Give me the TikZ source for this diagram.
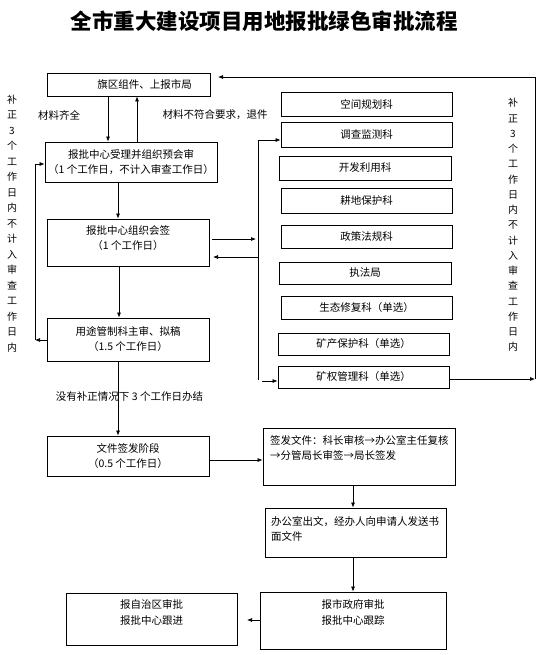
\documentclass[tikz,border=0pt]{standalone}
\usepackage{fontspec}
\setmainfont{Noto Sans CJK SC}
\usetikzlibrary{arrows.meta}
\tikzset{
  box/.style={draw=black, line width=0.8pt, inner sep=0pt, align=center,
              font=\fontsize{10.5}{15}\selectfont},
  sbox/.style={box, minimum width=171pt},
  arr/.style={-{Latex[length=5pt,width=4pt]}, line width=0.7pt},
  ln/.style={line width=0.7pt},
  lbl/.style={font=\fontsize{10.5}{15}\selectfont, inner sep=0pt},
  vtxt/.style={font=\fontsize{10}{15.5}\selectfont, align=center, inner sep=0pt},
}
\begin{document}
\begin{tikzpicture}[x=1pt,y=-1pt]
\useasboundingbox[fill=white] (0,0) rectangle (542,655);

% title
\node[font=\fontsize{21.5}{24}\selectfont\bfseries, inner sep=0pt] (title) at (264,21) {全市重大建设项目用地报批绿色审批流程};

% main left column
\node[box, minimum width=163pt, minimum height=23pt] (qq) at (128.5,84.5) {\hspace*{32pt}旗区组件、上报市局};
\node[box, minimum width=172pt, minimum height=40pt] (bp) at (131,162) {报批中心受理并组织预会审\\（1 个工作日，不计入审查工作日）};
\node[box, minimum width=162pt, minimum height=47pt] (hq) at (128,242.5) {};
\node[lbl, align=center] (hqt) at (128,238.5) {报批中心组织会签\\（1 个工作日）};
\node[box, minimum width=162pt, minimum height=43pt] (yt) at (128,339.5) {用途管制科主审、拟稿\\（1.5 个工作日）};
\node[box, minimum width=162pt, minimum height=40pt] (wj) at (128,456) {文件签发阶段\\（0.5 个工作日）};
\node[box, minimum width=192pt, minimum height=57pt] (qf) at (359,456.5) {};
\node[lbl, anchor=west, align=left, font=\fontsize{10.5}{14.5}\selectfont] (qft) at (270,448) {签发文件：科长审核→办公室主任复核\\→分管局长审签→局长签发};
\node[box, minimum width=181pt, minimum height=49pt] (bg) at (355.5,532.5) {};
\node[lbl, anchor=west, align=left, font=\fontsize{10.5}{15}\selectfont] (bgt) at (271,528.5) {办公室出文，经办人向申请人发送书\\面文件};
\node[box, minimum width=186pt, minimum height=57pt] (sz) at (353,620.5) {};
\node[lbl, align=center, font=\fontsize{10.5}{16}\selectfont] (szt) at (353,612) {报市政府审批\\报批中心跟踪};
\node[box, minimum width=171pt, minimum height=52pt] (zz) at (151.5,619) {};
\node[lbl, align=center, font=\fontsize{10.5}{16}\selectfont] (zzt) at (151.5,612) {报自治区审批\\报批中心跟进};

% right column
\node[sbox, minimum height=24pt] (k1) at (366.5,104) {空间规划科};
\node[sbox, minimum height=25pt] (k2) at (366.5,134.5) {调查监测科};
\node[sbox, minimum width=172pt, minimum height=24pt] (k3) at (365,168) {开发利用科};
\node[sbox, minimum height=25pt] (k4) at (366.5,200.5) {耕地保护科};
\node[sbox, minimum height=23pt] (k5) at (366.5,236.5) {政策法规科};
\node[sbox, minimum width=172pt, minimum height=22pt] (k6) at (365,273) {执法局};
\node[sbox, minimum height=23pt] (k7) at (366.5,307.5) {生态修复科（单选）};
\node[sbox, minimum height=22pt] (k8) at (363.5,344) {矿产保护科（单选）};
\node[sbox, minimum height=22pt] (k9) at (363.5,377) {矿权管理科（单选）};

% labels
\node[lbl] (l1) at (59,115) {材料齐全};
\node[lbl] (l2) at (215,115) {材料不符合要求，退件};
\node[lbl] (l3) at (129.5,397) {没有补正情况下 3 个工作日办结};
\node[vtxt] (vl) at (12,223.5) {补\\正\\3\\个\\工\\作\\日\\内\\不\\计\\入\\审\\查\\工\\作\\日\\内};
\node[vtxt, font=\fontsize{10}{15.25}\selectfont] (vr) at (513,225) {补\\正\\3\\个\\工\\作\\日\\内\\不\\计\\入\\审\\查\\工\\作\\日\\内};

% helper coordinates
\coordinate (xa) at (108,0);
\coordinate (xb) at (137,0);
\coordinate (xc) at (118,0);
\coordinate (xd) at (119,0);
\coordinate (xe) at (353,0);
\coordinate (bt) at (258,140);
\coordinate (bb) at (258,380);
\coordinate (ht1) at (212,239);
\coordinate (ht2) at (256,239);
\coordinate (hr1) at (258,257);
\coordinate (hr2) at (213,257);
\coordinate (kb1) at (262,381);
\coordinate (rc) at (535,379);
\coordinate (rt) at (535,77);
\coordinate (rq) at (218,77);
\coordinate (lb) at (35,340);
\coordinate (lt) at (35,164);
\coordinate (sza) at (247,620);
\coordinate (wy) at (0,460);

% main arrows
\draw[arr] (qq.south -| xa) -- (bp.north -| xa);
\draw[arr] (bp.north -| xb) -- (qq.south -| xb);
\draw[arr] (bp.south -| xc) -- (hq.north -| xc);
\draw[arr] (hq.south -| xd) -- (yt.north -| xd);
\draw[arr] (yt.south -| xc) -- (wj.north -| xc);
\draw[arr] (wj.east |- wy) -- (qf.west |- wy);
\draw[arr] (qf.south -| xe) -- (bg.north -| xe);
\draw[arr] (bg.south -| xe) -- (sz.north -| xe);
\draw[arr] (sz.west |- sza) -- (sza);

% branch to departments
\draw[arr] (ht1) -- (ht2);
\draw[arr] (hr1) -- (hr2);
\draw[ln] (bb) -- (bt);
\draw[arr] (bt) -- (k2.west |- bt);
\draw[arr] (kb1) -- (k9.west |- kb1);

% right loop
\draw[arr] (k9.east |- rc) -- (rc);
\draw[arr] (rc) -- (rt) -- (rq);

% left loop
\draw[arr] (yt.west |- lb) -- (lb);
\draw[arr] (lb) -- (lt) -- (bp.west |- lt);
\end{tikzpicture}
\end{document}
